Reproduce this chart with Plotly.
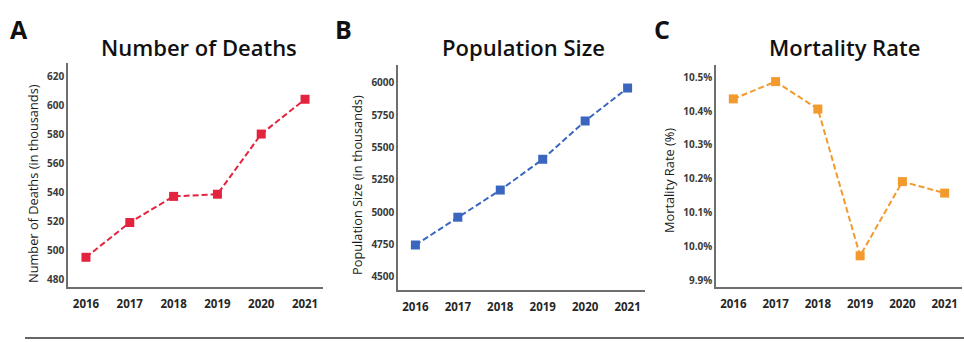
import plotly.graph_objects as go

# Data (values in thousands / percent)
years = ["2016", "2017", "2018", "2019", "2020", "2021"]
deaths = [495, 519, 537, 538.5, 580, 604]
population = [4745, 4960, 5170, 5408, 5704, 5959]
mortality = [10.436, 10.487, 10.406, 9.973, 10.192, 10.158]

death_ticks = [480, 500, 520, 540, 560, 580, 600, 620]
pop_ticks = [4500, 4750, 5000, 5250, 5500, 5750, 6000]
rate_ticks = [9.9, 10.0, 10.1, 10.2, 10.3, 10.4, 10.5]

W, H = 964, 342
FONT = "Open Sans"
RED, BLUE, ORANGE = "#E4233F", "#3A66C0", "#F29A2E"
AXIS = "#6e6e6e"

def px_x(a, b):
    return [a / W, b / W]

def px_y(top, bottom):
    return [1 - bottom / H, 1 - top / H]

panels = [
    # (values, color, x-domain px, y-domain px, y-range, tick values, tick labels)
    (deaths, RED, (68, 323), (63, 287), (474.5, 629), death_ticks,
     [str(t) for t in death_ticks]),
    (population, BLUE, (398, 645), (65, 290), (4397, 6137), pop_ticks,
     [str(t) for t in pop_ticks]),
    (mortality, ORANGE, (716, 962), (65, 287), (9.881, 10.536), rate_ticks,
     [f"{t:.1f}%" for t in rate_ticks]),
]

fig = go.Figure()
for i, (vals, col, xd, yd, yr, ticks, labels) in enumerate(panels, start=1):
    sx = "" if i == 1 else str(i)
    fig.add_trace(go.Scatter(
        x=years, y=vals, mode="lines+markers",
        line=dict(color=col, width=2, dash="6px,3px"),
        marker=dict(symbol="square", size=9, color=col),
        xaxis="x" + sx, yaxis="y" + sx, showlegend=False,
        hoverinfo="x+y",
    ))
    fig.update_layout(**{
        "xaxis" + sx: dict(
            domain=px_x(*xd), anchor="y" + sx, type="category",
            range=[-0.41, 5.41], showline=True, linecolor=AXIS, linewidth=1.5,
            showgrid=False, zeroline=False, ticks="", ticklabelstandoff=5,
            tickfont=dict(family=FONT, size=11.5, color="#262626", weight="bold"),
        ),
        "yaxis" + sx: dict(
            domain=px_y(*yd), anchor="x" + sx, range=list(yr),
            tickvals=ticks, ticktext=labels, showline=True, linecolor=AXIS,
            linewidth=1.5, showgrid=False, zeroline=False, ticks="",
            tickfont=dict(family=FONT, size=10, color="#3a3a3a", weight="bold"),
        ),
    })

annotations = []
# Panel titles
for text, cx in [("Number of Deaths", 199), ("Population Size", 523), ("Mortality Rate", 844)]:
    annotations.append(dict(text=text, x=cx / W, y=1 - 47 / H, xref="paper", yref="paper",
                            xanchor="center", yanchor="middle", showarrow=False,
                            font=dict(family=FONT, size=22, color="#111111", weight=600)))
# Panel letters
for text, cx in [("A", 19), ("B", 343), ("C", 662)]:
    annotations.append(dict(text=text, x=cx / W, y=1 - 29 / H, xref="paper", yref="paper",
                            xanchor="center", yanchor="middle", showarrow=False,
                            font=dict(family=FONT, size=25, color="#111111", weight="bold")))
# Y-axis titles
for text, cx, cy in [("Number of Deaths (in thousands)", 33, 184),
                     ("Population Size (in thousands)", 357, 185),
                     ("Mortality Rate (%)", 669, 181)]:
    annotations.append(dict(text=text, x=cx / W, y=1 - cy / H, xref="paper", yref="paper",
                            xanchor="center", yanchor="middle", showarrow=False, textangle=-90,
                            font=dict(family=FONT, size=12.8, color="#1a1a1a", weight=500)))

fig.update_layout(
    width=W, height=H, margin=dict(l=0, r=0, t=0, b=0),
    paper_bgcolor="white", plot_bgcolor="white",
    annotations=annotations,
    shapes=[dict(type="line", xref="paper", yref="paper",
                 x0=25 / W, x1=1, y0=1 - 338 / H, y1=1 - 338 / H,
                 line=dict(color="#666666", width=2))],
)

fig.write_html("out.html")
